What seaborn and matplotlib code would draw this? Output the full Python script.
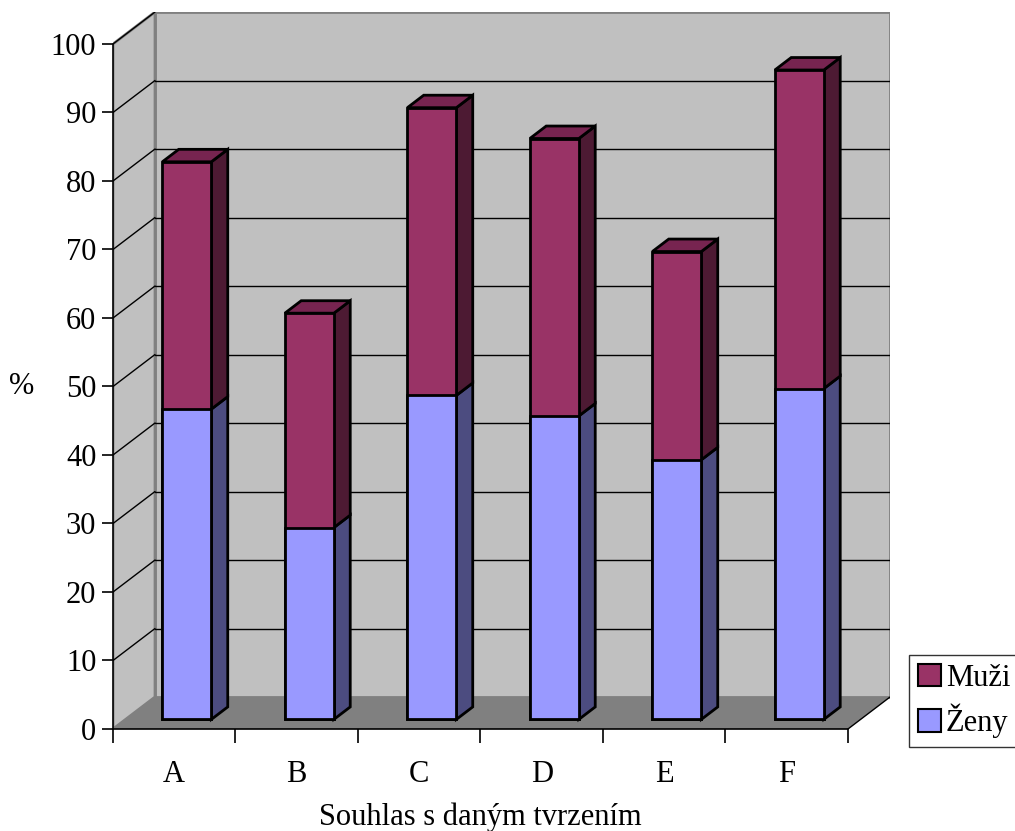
import numpy as np
import matplotlib
matplotlib.use("Agg")
import matplotlib.pyplot as plt
from matplotlib.patches import Polygon, Patch
import seaborn as sns

# ---- data ----
categories = ["A", "B", "C", "D", "E", "F"]
zeny = [45.3, 28.0, 47.3, 44.3, 37.9, 48.3]
muzi = [36.1, 31.3, 42.0, 40.5, 30.4, 46.5]
y_ticks = [0, 10, 20, 30, 40, 50, 60, 70, 80, 90, 100]
legend_labels = ["Muži", "Ženy"]
x_title = "Souhlas s daným tvrzením"
y_title = "%"

total = [z + m for z, m in zip(zeny, muzi)]

# ---- style ----
sns.set_theme(style="white")
plt.rcParams["font.family"] = ["Liberation Serif", "DejaVu Serif"]
plt.rcParams["text.color"] = "black"
plt.rcParams["axes.labelcolor"] = "black"
plt.rcParams["xtick.color"] = "black"
plt.rcParams["ytick.color"] = "black"
FS = 22

C_MUZI, C_MUZI_SIDE, C_MUZI_TOP = "#993366", "#4D1A33", "#772450"
C_ZENY, C_ZENY_SIDE = "#9999FF", "#4C4C80"
WALL, FLOOR, EDGE = "#C0C0C0", "#808080", "#808080"

# oblique depth (category units, percent units)
DX, DY = 0.343, 4.67
F_FRONT, F_DEPTH = 0.30, 0.39
BW = 0.4

fig = plt.figure(figsize=(10.15, 8.31), dpi=100)
ax = fig.add_axes([113 / 1015, 1 - 729 / 831, 777 / 1015, (729 - 12) / 831])

n = len(categories)
xl, xr = -0.5, n - 0.5
ymax = y_ticks[-1]

# walls and floor
ax.add_patch(Polygon([(xl + DX, DY), (xr + DX, DY), (xr + DX, ymax + DY), (xl + DX, ymax + DY)],
                     closed=True, facecolor=WALL, edgecolor=EDGE, lw=2, zorder=0))
ax.add_patch(Polygon([(xl, 0), (xl + DX, DY), (xl + DX, ymax + DY), (xl, ymax)],
                     closed=True, facecolor=WALL, edgecolor=EDGE, lw=2, zorder=0))
ax.add_patch(Polygon([(xl, 0), (xr, 0), (xr + DX, DY), (xl + DX, DY)],
                     closed=True, facecolor=FLOOR, edgecolor="none", zorder=0.2))
# gridlines
for v in y_ticks[1:-1]:
    ax.plot([xl + DX, xr + DX], [v + DY, v + DY], color="black", lw=1, zorder=0.5)
for v in y_ticks[1:]:
    ax.plot([xl, xl + DX], [v, v + DY], color="black", lw=1, zorder=0.5)
# floor edges
ax.plot([xr, xr + DX], [0, DY], color="black", lw=1, zorder=0.6)
ax.plot([xl, xr], [0, 0], color="black", lw=1.2, zorder=0.6, clip_on=False)
ax.plot([xl, xl], [0, ymax], color="black", lw=1.2, zorder=0.6, clip_on=False)

# front faces via seaborn
n_before = len(ax.patches)
sns.barplot(x=categories, y=total, color=C_MUZI, saturation=1, width=BW,
            edgecolor="black", linewidth=2, ax=ax, zorder=3)
sns.barplot(x=categories, y=zeny, color=C_ZENY, saturation=1, width=BW,
            edgecolor="black", linewidth=2, ax=ax, zorder=3)
ox, oy = F_FRONT * DX, F_FRONT * DY
for p in ax.patches[n_before:]:
    p.set_x(p.get_x() + ox)
    p.set_y(p.get_y() + oy)

# sides and tops
bdx, bdy = F_DEPTH * DX, F_DEPTH * DY
for i in range(n):
    x_r = i + BW / 2 + ox
    x_l = i - BW / 2 + ox
    for y0, y1, col in [(0, zeny[i], C_ZENY_SIDE), (zeny[i], total[i], C_MUZI_SIDE)]:
        ax.add_patch(Polygon([(x_r, y0 + oy), (x_r + bdx, y0 + oy + bdy),
                              (x_r + bdx, y1 + oy + bdy), (x_r, y1 + oy)],
                             closed=True, facecolor=col, edgecolor="black", lw=2, zorder=2.5))
    t = total[i] + oy
    ax.add_patch(Polygon([(x_l, t), (x_r, t), (x_r + bdx, t + bdy), (x_l + bdx, t + bdy)],
                         closed=True, facecolor=C_MUZI_TOP, edgecolor="black", lw=2, zorder=2.5))

ax.set_xlim(xl, xr + DX)
ax.set_ylim(0, ymax + DY)
for s in ax.spines.values():
    s.set_visible(False)
ax.grid(False)

ax.set_yticks(y_ticks)
ax.set_yticklabels([str(v) for v in y_ticks], fontsize=FS)
ax.tick_params(axis="y", which="major", direction="out", length=8, width=1.2,
               color="black", labelcolor="black", left=True, pad=4)
ax.set_xticks(range(n))
ax.set_xticklabels(categories, fontsize=FS)
ax.set_xticks(np.arange(n + 1) - 0.5, minor=True)
ax.tick_params(axis="x", which="major", length=0, pad=22, labelcolor="black")
ax.tick_params(axis="x", which="minor", direction="out", length=10, width=1.2,
               color="black", bottom=True)

ax.set_xlabel(x_title, fontsize=FS, color="black")
ax.xaxis.set_label_coords(3.0 / (xr + DX - xl), -0.102)
ax.set_ylabel(y_title, fontsize=FS, rotation=0, ha="center", va="center", color="black")
ax.yaxis.set_label_coords(-0.117, 50 / (ymax + DY))

handles = [Patch(facecolor=C_MUZI, edgecolor="black", lw=1.5),
           Patch(facecolor=C_ZENY, edgecolor="black", lw=1.5)]
leg = fig.legend(handles, legend_labels, loc="center left",
                 bbox_to_anchor=(909 / 1015, 1 - 701 / 831), fontsize=FS,
                 frameon=True, fancybox=False, edgecolor="black",
                 handlelength=0.75, handleheight=0.75, handletextpad=0.15,
                 borderpad=0.3, labelspacing=0.35, borderaxespad=0)
leg.get_frame().set_linewidth(1)
for t in leg.get_texts():
    t.set_color("black")

fig.savefig("out.png", dpi=100)
